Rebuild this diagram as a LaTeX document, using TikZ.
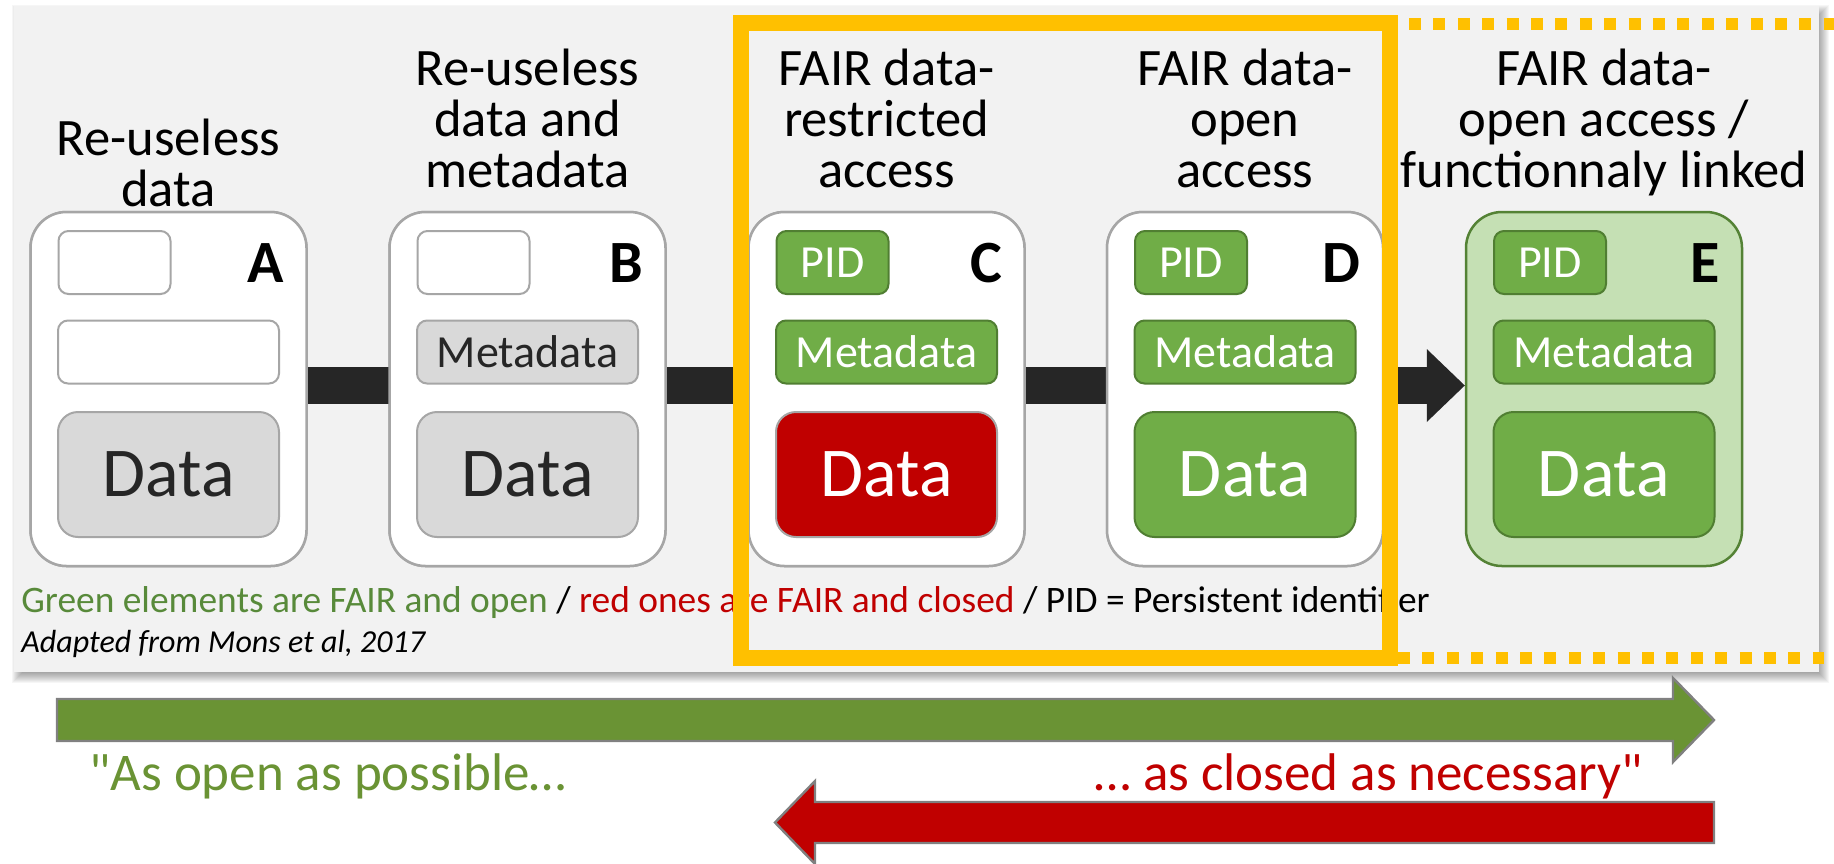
\documentclass[tikz,border=0pt]{standalone}
\usepackage{fontspec}
\setmainfont{Carlito}
\usetikzlibrary{arrows.meta}
\newcommand\straightq{\XeTeXglyph\XeTeXcharglyph"22\relax}
\definecolor{panelc}{HTML}{F2F2F2}
\definecolor{cardgray}{HTML}{A6A6A6}
\definecolor{boxgray}{HTML}{D9D9D9}
\definecolor{darktext}{HTML}{262626}
\definecolor{gfill}{HTML}{70AD47}
\definecolor{gdraw}{HTML}{507E32}
\definecolor{rfill}{HTML}{C00000}
\definecolor{efill}{HTML}{C5E0B4}
\definecolor{edraw}{HTML}{548235}
\definecolor{yell}{HTML}{FFC000}
\definecolor{bardark}{HTML}{262626}
\definecolor{lgreen}{HTML}{588A3A}
\definecolor{agreen}{HTML}{6A9334}
\definecolor{arrborder}{HTML}{808080}
\begin{document}
\begin{tikzpicture}[x=0.5pt,y=-0.5pt,
  card/.style={draw=cardgray, line width=1.25pt, fill=white, rounded corners=18pt,
    minimum width=138pt, minimum height=177pt, inner sep=0pt},
  cardE/.style={card, draw=edraw, fill=efill},
  pidbox/.style={rounded corners=5pt, minimum width=56pt, minimum height=31.5pt,
    line width=1pt, inner sep=0pt, font=\fontsize{23}{27}\selectfont},
  metabox/.style={pidbox, minimum width=110.5pt},
  databox/.style={rounded corners=10pt, minimum width=110.5pt, minimum height=62.5pt,
    line width=1pt, inner sep=0pt, font=\fontsize{35}{42}\selectfont},
  emptyfill/.style={fill=white, draw=cardgray},
  grayfill/.style={fill=boxgray, draw=cardgray, text=darktext},
  greenfill/.style={fill=gfill, draw=gdraw, text=white},
  redfill/.style={fill=rfill, draw=cardgray, text=white},
  letter/.style={anchor=base east, inner sep=0pt, font=\fontsize{30}{36}\selectfont\bfseries},
  title/.style={anchor=base, inner sep=0pt, align=center, font=\fontsize{26.3}{25.5}\selectfont},
  bar/.style={draw=bardark, line width=18.5pt,
    -{Triangle[length=19pt,width=36.5pt,line width=0pt]}},
  bigarrow/.style={draw=arrborder, line width=1.2pt},
  note/.style={inner sep=0pt, anchor=base west}
]
\useasboundingbox[fill=white] (0,0) rectangle (1834,863);

% panel shadow
\foreach \k in {-6,...,6}{
  \fill[black, opacity=0.035] (18+\k,11+\k) rectangle (1823-\k,677-\k);
}
\fill[panelc] (14,6) rectangle (1819,672);

% cards
\node[card] (A) at (168.5,389) {};
\node[card] (B) at (527.5,389) {};
\node[card] (C) at (886.5,389) {};
\node[card] (D) at (1245,389) {};
\node[cardE] (E) at (1604,389) {};

% connector bar
\draw[bar] ([yshift=1.75pt]A.east) -- ([yshift=1.75pt]E.west);

% redraw cards over the bar
\node[card] (A0) at (A) {};
\node[card] (B0) at (B) {};
\node[card] (C0) at (C) {};
\node[card] (D0) at (D) {};

% card A
\node[pidbox, emptyfill] (A1) at (114.5,262.5) {};
\node[metabox, emptyfill] (A2) at (168.5,352) {};
\node[databox, grayfill] (A3) at (168.5,474.5) {Data};
\node[letter] (Al) at (284.5,282) {A};
\node[title] (At) at (168.5,206) {Re-useless\\data};

% card B
\node[pidbox, emptyfill] (B1) at (473.5,262.5) {};
\node[metabox, grayfill] (B2) at (527.5,352) {Metadata};
\node[databox, grayfill] (B3) at (527.5,474.5) {Data};
\node[letter] (Bl) at (643.5,282) {B};
\node[title] (Bt) at (527.5,187) {Re-useless\\data and\\metadata};

% card C
\node[pidbox, greenfill] (C1) at (832.5,262.5) {PID};
\node[metabox, greenfill] (C2) at (886.5,352) {Metadata};
\node[databox, redfill] (C3) at (886.5,474.5) {Data};
\node[letter] (Cl) at (1002.5,282) {C};
\node[title] (Ct) at (886.5,187) {FAIR data-\\restricted\\access};

% card D
\node[pidbox, greenfill] (D1) at (1191,262.5) {PID};
\node[metabox, greenfill] (D2) at (1245,352) {Metadata};
\node[databox, greenfill] (D3) at (1245,474.5) {Data};
\node[letter] (Dl) at (1361,282) {D};
\node[title] (Dt) at (1245,187) {FAIR data-\\open\\access};

% card E
\node[pidbox, greenfill] (E1) at (1550,262.5) {PID};
\node[metabox, greenfill] (E2) at (1604,352) {Metadata};
\node[databox, greenfill] (E3) at (1604,474.5) {Data};
\node[letter] (El) at (1720,282) {E};
\node[title] (Et) at (1604,187) {FAIR data-\\open access /\\functionnaly linked};

% legend texts
\node[note, font=\fontsize{18.7}{22}\selectfont] (legend) at (21,612)
  {\textcolor{lgreen}{Green elements are FAIR and open} / \textcolor{rfill}{red ones are FAIR and closed} / PID = Persistent identifier};
\node[note, font=\fontsize{16}{20}\selectfont\itshape] (source) at (21,652)
  {Adapted from Mons et al, 2017};

% yellow frames
\draw[yell, line width=8pt, line join=miter] (741,23) rectangle (1389.5,657.5);
\coordinate (yt1) at (1409,24);
\coordinate (yt2) at (1834,24);
\coordinate (yb1) at (1398,658);
\coordinate (yb2) at (1824,658);
\draw[yell, line width=6pt, dash pattern=on 6pt off 6.2pt] (yt1) -- (yt2);
\draw[yell, line width=6pt, dash pattern=on 6pt off 6.2pt] (yb1) -- (yb2);

% bottom arrows
\draw[bigarrow, fill=agreen] (57,699) -- (1673,699) -- (1673,678) -- (1714,720)
  -- (1673,762) -- (1673,741) -- (57,741) -- cycle;
\draw[bigarrow, fill=rfill] (1714,802) -- (815,802) -- (815,781) -- (775,822.5)
  -- (815,864) -- (815,843) -- (1714,843) -- cycle;

\node[note, font=\fontsize{26.5}{30}\selectfont, text=agreen] (open) at (89,790)
  {\straightq As open as possible…};
\node[inner sep=0pt, anchor=base east, font=\fontsize{26.5}{30}\selectfont, text=rfill] (closed) at (1643,790)
  {… as closed as necessary\straightq};
\end{tikzpicture}
\end{document}
